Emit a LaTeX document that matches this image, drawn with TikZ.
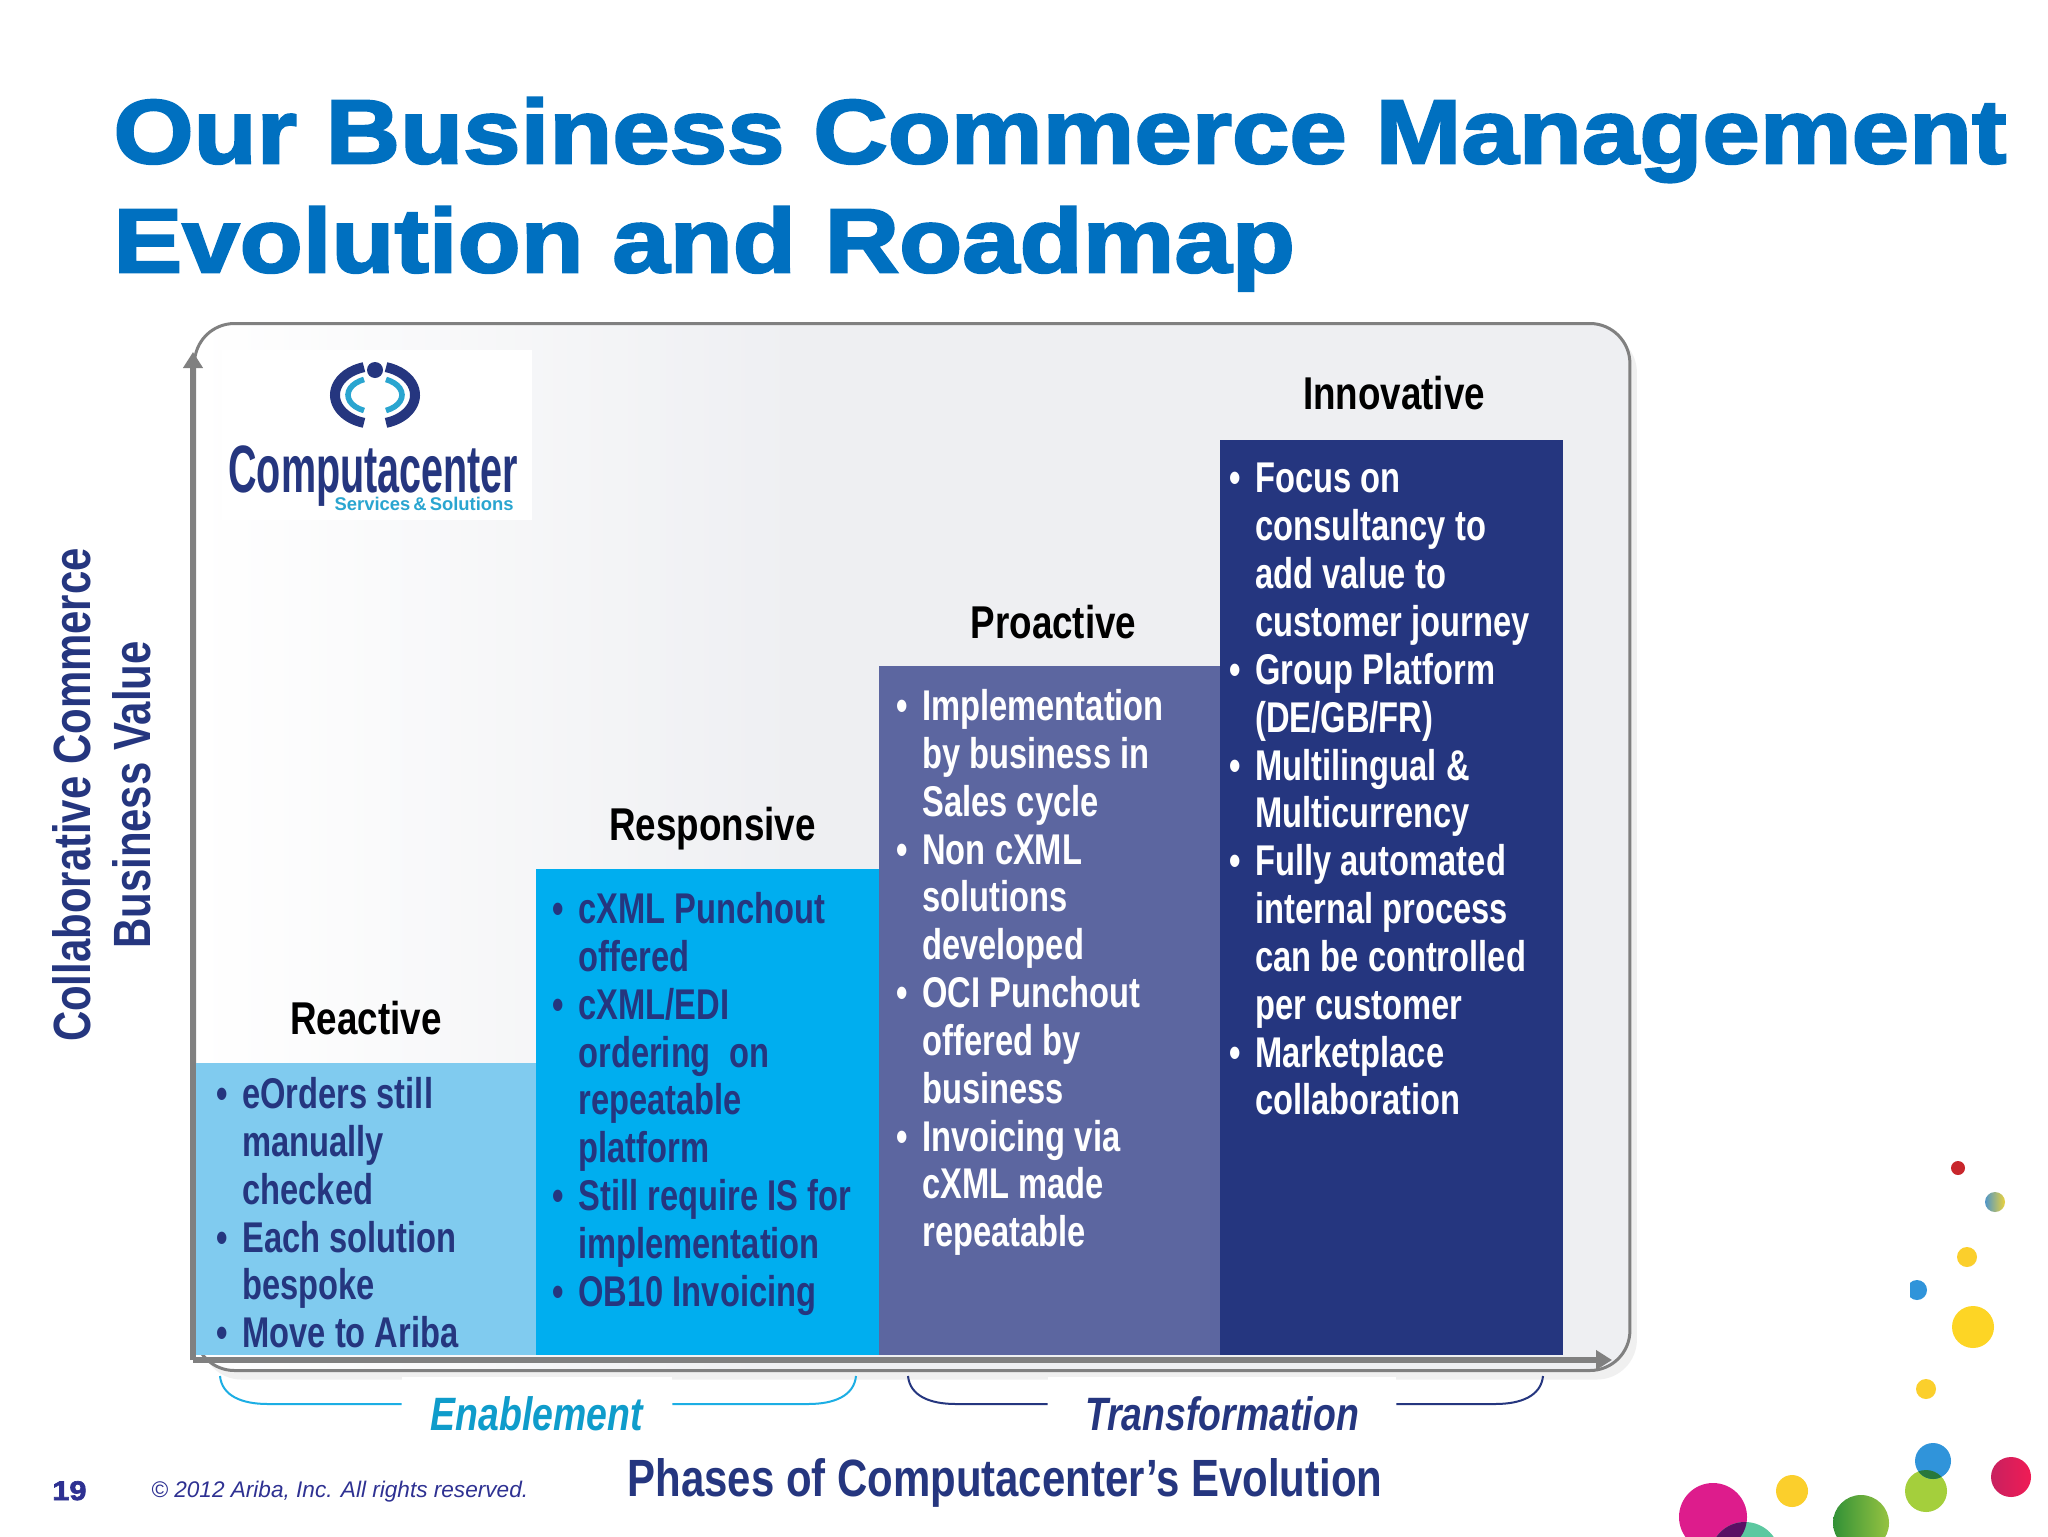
\documentclass[tikz,border=0pt]{standalone}
\usepackage{fontspec}
\setmainfont{Liberation Sans}
\newfontfamily\narrowfont[FakeStretch=0.8]{Liberation Sans}
\newfontfamily\listfont[FakeStretch=0.76]{Liberation Sans}
\newfontfamily\logofont[FakeStretch=0.59]{Liberation Sans}
\newfontfamily\titlefont[FakeStretch=1.137,FakeBold=2.5]{Liberation Sans}
\usetikzlibrary{positioning,arrows.meta,shadows}

\definecolor{navy}{HTML}{25367F}
\definecolor{titleblue}{HTML}{0070C0}
\definecolor{reactivefill}{HTML}{80CBEF}
\definecolor{responsivefill}{HTML}{00AEEF}
\definecolor{proactivefill}{HTML}{5C66A0}
\definecolor{axisgray}{HTML}{808080}
\definecolor{panelgray}{HTML}{EEEFF2}
\definecolor{footerblue}{HTML}{2E3192}
\definecolor{enablecyan}{HTML}{1CAEE4}
\definecolor{enabletext}{HTML}{0F9CCB}
\definecolor{logocyan}{HTML}{2AA5D0}

\pgfdeclarehorizontalshading{panelshade}{100bp}{color(0bp)=(white); color(25bp)=(white); color(46bp)=(panelgray); color(100bp)=(panelgray)}

\newcommand{\bitem}{\leavevmode\llap{\textbullet\hspace{7pt}}}

\tikzset{
    phasebox/.style={anchor=south west, inner sep=0pt, minimum height=#1},
    phaselabel/.style={font=\narrowfont\bfseries\fontsize{23}{26}\selectfont, text=black, inner sep=0pt, text height=17pt, text depth=0pt},
    phaselist/.style={anchor=north west, align=left, inner sep=0pt, font=\listfont\bfseries\fontsize{21.5}{23.92}\selectfont},
    bracketlabel/.style={font=\narrowfont\bfseries\itshape\fontsize{23.4}{26}\selectfont, fill=white, inner sep=0pt, text height=27pt, text depth=0.5pt},
    bracketline/.style={line width=1pt},
    axisline/.style={draw=axisgray, line width=3pt, -{Triangle[width=9.5pt,length=8pt]}},
    axistext/.style={font=\narrowfont\bfseries\fontsize{26.2}{30}\selectfont, text=navy, align=center, inner sep=0pt},
    logoarc/.style={line width=#1}
}

\begin{document}
\begin{tikzpicture}[x=0.5pt,y=-0.5pt]
        \path[use as bounding box, clip] (0,0) rectangle (2048,1536);
        \fill[white] (0,0) rectangle (2048,1536);

        % title
        \node[anchor=north west, align=left, inner sep=0pt, text=titleblue, font=\titlefont\bfseries\fontsize{45.4}{54.5}\selectfont] (title) at (113,97) {Our Business Commerce Management\\Evolution and Roadmap};

        % panel and axes
        \node[draw=axisgray, line width=1.5pt, rounded corners=20pt, shading=panelshade, minimum width=717.7pt, minimum height=523.5pt, inner sep=0pt, anchor=north west,
            drop shadow={shadow xshift=3.5pt, shadow yshift=-4.5pt, fill=black!6, opacity=1}] (panel) at (193,322) {};
        \coordinate (origin) at (193,1360);
        \coordinate (yend) at (193,352);
        \coordinate (xend) at (1612,1360);

        % logo
        \node[fill=white, anchor=north west, inner sep=0pt, minimum width=155pt, minimum height=85pt] (logo) at (222,350) {};
        \draw[navy, logoarc=5pt] (375,395) ++(106:40 and 29) arc[start angle=106, end angle=254, x radius=40, y radius=29];
        \draw[navy, logoarc=5pt] (375,395) ++(74:40 and 29) arc[start angle=74, end angle=-74, x radius=40, y radius=29];
        \draw[logocyan, logoarc=2.8pt] (375,395) ++(114:27 and 17) arc[start angle=114, end angle=246, x radius=27, y radius=17];
        \draw[logocyan, logoarc=2.8pt] (375,395) ++(66:27 and 17) arc[start angle=66, end angle=-66, x radius=27, y radius=17];
        \fill[navy] (375,370) circle[radius=8];
        \node[anchor=base west, inner sep=0pt, text=navy, font=\logofont\bfseries\fontsize{33.5}{35}\selectfont] (logoname) at (228,492) {Computacenter};
        \node[anchor=base east, inner sep=0pt, text=logocyan, font=\bfseries\fontsize{9.2}{10}\selectfont] (logotag) at (514,510) {Services\,\&\,Solutions};

        % steps
        \node[phasebox=145.5pt, fill=reactivefill, draw=reactivefill, line width=0.3pt, minimum width=169.5pt] (reactive) at (196,1355) {};
        \node[phasebox=242.5pt, fill=responsivefill, draw=responsivefill, line width=0.3pt, minimum width=171.5pt] (responsive) at (reactive.south east) {};
        \node[phasebox=344pt, fill=proactivefill, draw=proactivefill, line width=0.3pt, minimum width=170pt] (proactive) at (responsive.south east) {};
        \node[phasebox=457pt, fill=navy, draw=navy, line width=0.3pt, minimum width=171pt] (innovative) at (proactive.south east) {};

        \node[phaselabel, above=14.5pt of reactive] (reactivelabel) {Reactive};
        \node[phaselabel, above=14.5pt of responsive, xshift=2.5pt] (responsivelabel) {Responsive};
        \node[phaselabel, above=14pt of proactive, xshift=2pt] (proactivelabel) {Proactive};
        \node[phaselabel, above=15.5pt of innovative, xshift=1.5pt] (innovativelabel) {Innovative};

        \node[phaselist, text=navy] (reactivelist) at (242,1077) {\bitem eOrders still\\manually\\checked\\\bitem Each solution\\bespoke\\\bitem Move to Ariba};
        \node[phaselist, text=navy] (responsivelist) at (578,892) {\bitem cXML Punchout\\offered\\\bitem cXML/EDI\\ordering\ \ on\\repeatable\\platform\\\bitem Still require IS for\\implementation\\\bitem OB10 Invoicing};
        \node[phaselist, text=white] (proactivelist) at (922,689) {\bitem Implementation\\by business in\\Sales cycle\\\bitem Non cXML\\solutions\\developed\\\bitem OCI Punchout\\offered by\\business\\\bitem Invoicing via\\cXML made\\repeatable};
        \node[phaselist, text=white] (innovativelist) at (1255,463) {\bitem Focus on\\consultancy to\\add value to\\customer journey\\\bitem Group Platform\\(DE/GB/FR)\\\bitem Multilingual \&\\Multicurrency\\\bitem Fully automated\\internal process\\can be controlled\\per customer\\\bitem Marketplace\\collaboration};

        \draw[axisline] (origin) -- (yend);
        \draw[axisline] (origin) -- (xend);

        % axis titles
        \node[axistext, rotate=90] (yaxis) at (102,795) {Collaborative Commerce\\Business Value};
        \node[axistext, anchor=base] (xaxis) at (1005,1496) {Phases of Computacenter’s Evolution};

        % brackets
        \node[bracketlabel, text=enabletext, minimum width=135pt] (enablement) at (537,1404) {Enablement};
        \node[bracketlabel, text=navy, minimum width=174pt] (transformation) at (1222,1404) {Transformation};
        \coordinate (enableleft) at (220,1376);
        \coordinate (enableright) at (856,1376);
        \coordinate (transleft) at (908,1376);
        \coordinate (transright) at (1543,1376);
        \draw[bracketline, enablecyan] (enableleft) .. controls +(2,20) and +(-26,0) .. (268,1404) -- (enablement.west);
        \draw[bracketline, enablecyan] (enablement.east) -- (808,1404) .. controls +(26,0) and +(-2,20) .. (enableright);
        \draw[bracketline, navy] (transleft) .. controls +(2,20) and +(-26,0) .. (956,1404) -- (transformation.west);
        \draw[bracketline, navy] (transformation.east) -- (1495,1404) .. controls +(26,0) and +(-2,20) .. (transright);

        % footer
        \node[anchor=base west, inner sep=0pt, text=footerblue, font=\titlefont\bfseries\fontsize{13.5}{16}\selectfont] (pagenumber) at (52,1500) {19};
        \node[anchor=base west, inner sep=0pt, text=footerblue, font=\itshape\fontsize{11.3}{14}\selectfont] (copyright) at (151,1497) {© 2012 Ariba, Inc. All rights reserved.};

        % dots
        \foreach \dx/\dy/\dr/\dcol in {1958/1168/7/C8262C, 1967/1257/10/FBCF2C, 1973/1327/21/FDD525, 1926/1389/10/FBCF2C, 1792/1491/16/FBCF2C, 1926/1491/21/A4CF3C, 1933/1461/18/3094DA, 1713/1517/34/DD1C8C, 1745/1557/35/5CC8A0} {
            \definecolor{dotcol}{HTML}{\dcol}
            \fill[dotcol] (\dx,\dy) circle[radius=\dr];
        }
        \begin{scope}
            \clip (1910,1270) rectangle (1930,1310);
            \fill[fill={rgb,255:red,48;green,148;blue,218}] (1917,1290) circle[radius=10];
        \end{scope}
        \begin{scope}
            \clip (1926,1491) circle[radius=21];
            \fill[fill={rgb,255:red,40;green,120;blue,60}] (1933,1461) circle[radius=18];
        \end{scope}
        \begin{scope}
            \clip (1713,1517) circle[radius=34];
            \fill[fill={rgb,255:red,90;green,16;blue,100}] (1745,1557) circle[radius=35];
        \end{scope}
        \shade[left color={rgb,255:red,80;green,150;blue,200}, right color={rgb,255:red,235;green,210;blue,60}] (1995,1202) circle[radius=10];
        \shade[left color={rgb,255:red,50;green,145;blue,55}, right color={rgb,255:red,150;green,195;blue,65}] (1861,1523) circle[radius=28];
        \shade[left color={rgb,255:red,200;green,32;blue,95}, right color={rgb,255:red,240;green,28;blue,85}] (2011,1477) circle[radius=20];
    \end{tikzpicture}
\end{document}
